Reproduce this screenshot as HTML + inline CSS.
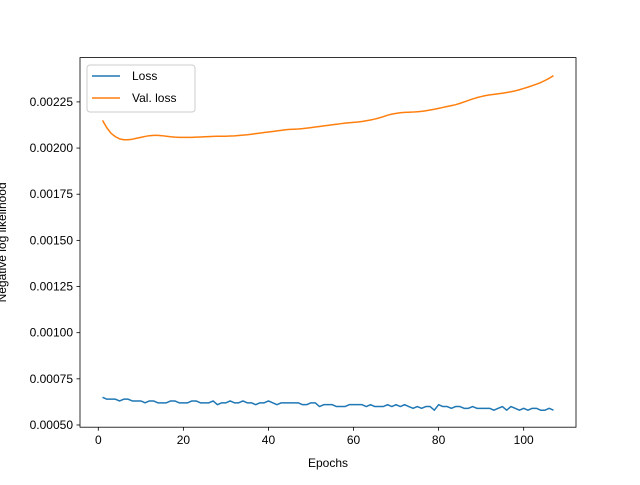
<!DOCTYPE html>
<html><head><meta charset="utf-8"><style>
body{margin:0;background:#fff;font-family:"Liberation Sans",sans-serif}
svg text{font-family:"Liberation Sans","DejaVu Sans",sans-serif;font-size:12px;fill:#000}
</style></head><body>
<svg id="chart" width="640" height="480"></svg>
<script>
const epochs = Array.from({length:107},(_,i)=>i+1);
const lossValues = [
0.00065,0.00064,0.00064,0.00064,0.00063,0.00064,0.00064,0.00063,0.00063,0.00063,
0.00062,0.00063,0.00063,0.00062,0.00062,0.00062,0.00063,0.00063,0.00062,0.00062,
0.00062,0.00063,0.00063,0.00062,0.00062,0.00062,0.00063,0.00061,0.00062,0.00062,
0.00063,0.00062,0.00062,0.00063,0.00062,0.00062,0.00061,0.00062,0.00062,0.00063,
0.00062,0.00061,0.00062,0.00062,0.00062,0.00062,0.00062,0.00061,0.00061,0.00062,
0.00062,0.00060,0.00061,0.00061,0.00061,0.00060,0.00060,0.00060,0.00061,0.00061,
0.00061,0.00061,0.00060,0.00061,0.00060,0.00060,0.00060,0.00061,0.00060,0.00061,
0.00060,0.00061,0.00060,0.00059,0.00060,0.00059,0.00060,0.00060,0.00058,0.00061,
0.00060,0.00060,0.00059,0.00060,0.00060,0.00059,0.00059,0.00060,0.00059,0.00059,
0.00059,0.00059,0.00058,0.00059,0.00060,0.00058,0.00060,0.00059,0.00058,0.00059,
0.00058,0.00059,0.00059,0.00058,0.00058,0.00059,0.00058];
const valLossValues = [
0.002150,0.002110,0.002080,0.002062,0.002050,0.002045,0.002045,0.002048,0.002053,0.002058,
0.002063,0.002067,0.002069,0.002069,0.002067,0.002064,0.002061,0.002059,0.002058,0.002058,
0.002058,0.002058,0.002059,0.002060,0.002061,0.002062,0.002063,0.002064,0.002064,0.002064,
0.002065,0.002066,0.002068,0.002070,0.002072,0.002075,0.002078,0.002081,0.002084,0.002087,
0.002090,0.002093,0.002096,0.002099,0.002101,0.002102,0.002103,0.002105,0.002108,0.002111,
0.002114,0.002117,0.002120,0.002123,0.002126,0.002129,0.002132,0.002135,0.002137,0.002139,
0.002141,0.002144,0.002148,0.002152,0.002157,0.002163,0.002170,0.002178,0.002184,0.002188,
0.002191,0.002193,0.002194,0.002195,0.002197,0.002199,0.002202,0.002206,0.002210,0.002215,
0.002220,0.002225,0.002230,0.002235,0.002242,0.002250,0.002258,0.002266,0.002273,0.002279,
0.002284,0.002288,0.002291,0.002294,0.002297,0.002301,0.002305,0.002310,0.002316,0.002323,
0.002330,0.002338,0.002346,0.002355,0.002366,0.002378,0.002392];
const xTicks = [0,20,40,60,80,100];
const yTicks = [0.0005,0.00075,0.001,0.00125,0.0015,0.00175,0.002,0.00225];
const yTickLabels = ["0.00050","0.00075","0.00100","0.00125","0.00150","0.00175","0.00200","0.00225"];

const L=80,R=576,T=57.6,B=427.2;
const xMin=-4.3,xMax=112.3,yMin=0.000488,yMax=0.00249;
const sx=v=>L+(v-xMin)/(xMax-xMin)*(R-L);
const sy=v=>B-(v-yMin)/(yMax-yMin)*(B-T);
const svg=document.getElementById('chart');
const NS='http://www.w3.org/2000/svg';
function mk(tag,attrs,parent){const e=document.createElementNS(NS,tag);for(const k in attrs)e.setAttribute(k,attrs[k]);(parent||svg).appendChild(e);return e;}

xTicks.forEach(v=>{
  const g=mk('g',{});
  
  
  mk('line',{x1:sx(v),x2:sx(v),y1:B,y2:B+3.5,stroke:'#000','stroke-width':0.8},g);
  const t=mk('text',{x:sx(v),y:B+17,'text-anchor':'middle'},g);t.textContent=v;
});
yTicks.forEach((v,i)=>{
  const g=mk('g',{});
  
  
  mk('line',{x1:L-3.5,x2:L,y1:sy(v),y2:sy(v),stroke:'#000','stroke-width':0.8},g);
  const t=mk('text',{x:L-7,y:sy(v)+4,'text-anchor':'end'},g);t.textContent=yTickLabels[i];
});
function line(vals,color,name){
  const p=mk('polyline',{points:vals.map((v,i)=>sx(epochs[i])+','+sy(v)).join(' '),fill:'none',stroke:color,'stroke-width':1.5,'stroke-linejoin':'round'});
  
  
}
line(lossValues,'#1f77b4','loss-line');
line(valLossValues,'#ff7f0e','val-loss-line');
const frame=mk('rect',{x:L,y:T,width:R-L,height:B-T,fill:'none',stroke:'#000','stroke-width':0.8});


const xt=mk('text',{x:(L+R)/2,y:467,'text-anchor':'middle'});xt.textContent='Epochs';


const yt=mk('text',{x:0,y:0,'text-anchor':'middle',transform:'translate(6,'+((T+B)/2)+') rotate(-90)'});yt.textContent='Negative log likelihood';


const lg=mk('g',{});


mk('rect',{x:87,y:65,width:108,height:47,rx:3,fill:'#fff',stroke:'#ccc','stroke-width':1},lg);
[['Loss','#1f77b4',76],['Val. loss','#ff7f0e',98]].forEach(([n,c,y])=>{
  const e=mk('g',{},lg);
  
  
  mk('line',{x1:92,x2:120,y1:y,y2:y,stroke:c,'stroke-width':1.5},e);
  const t=mk('text',{x:132,y:y+4},e);t.textContent=n;
});
</script>
</body></html>
